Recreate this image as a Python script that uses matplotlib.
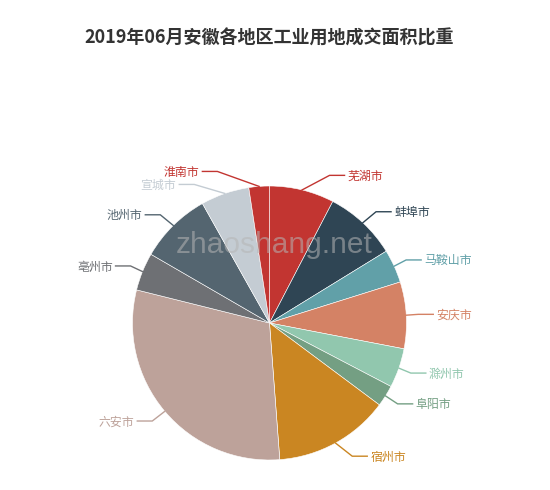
import matplotlib
matplotlib.use('Agg')
import matplotlib.pyplot as plt
import numpy as np

plt.rcParams['font.family'] = ['Noto Sans CJK SC', 'DejaVu Sans']

# data: share of industrial land transaction area (%), clockwise from top
cities = ['芜湖市', '蚌埠市', '马鞍山市', '安庆市', '滁州市', '阜阳市',
          '宿州市', '六安市', '亳州市', '池州市', '宣城市', '淮南市']
shares = [7.64, 8.58, 3.94, 7.86, 4.64, 2.53, 13.61, 30.08, 4.47, 8.50, 5.72, 2.42]

colors = ['#c23531', '#2f4554', '#61a0a8', '#d48265', '#91c7ae', '#749f83',
          '#ca8622', '#bda29a', '#6e7074', '#546570', '#c4ccd3', '#c23531']

W, H = 550, 490
fig = plt.figure(figsize=(W / 100, H / 100), dpi=100)
ax = fig.add_axes([0, 0, 1, 1])

cx, cy = 269.5, H - 323
r = 137
len1, len2 = 15, 15

ax.pie(shares, colors=colors, startangle=90, counterclock=False,
       center=(cx, cy), radius=r, frame=True,
       wedgeprops=dict(edgecolor='white', linewidth=0.4))

# echarts-like outside labels with leader lines
frac = np.array(shares) / sum(shares)
mids = (np.cumsum(frac) - frac / 2) * 2 * np.pi
labels = []
for name, col, a in zip(cities, colors, mids):
    dx, dy = np.sin(a), np.cos(a)
    labels.append(dict(name=name, col=col, dx=dx, dy=dy,
                       y=cy + (r + len1) * dy,
                       side=1 if dx >= 0 else -1))

# push overlapping labels down on each side
gap = 13
for side in (1, -1):
    group = sorted([l for l in labels if l['side'] == side], key=lambda l: -l['y'])
    for prev, cur in zip(group, group[1:]):
        if prev['y'] - cur['y'] < gap:
            cur['y'] = prev['y'] - gap

R = r + len1 + len2
for l in labels:
    dy_abs = abs(l['y'] - cy)
    dxl = np.sqrt(R ** 2 - dy_abs ** 2) if dy_abs < r + len1 else abs(R * l['dx'])
    tx = cx + l['side'] * dxl
    p0 = (cx + r * l['dx'], cy + r * l['dy'])
    p2 = (tx - 3 * l['side'], l['y'])
    p1 = (p2[0] - len2 * l['side'], l['y'])
    ax.plot([p0[0], p1[0], p2[0]], [p0[1], p1[1], p2[1]], color=l['col'], lw=1)
    ax.text(tx, l['y'] - 1, l['name'], color=l['col'], fontsize=8.6,
            ha='left' if l['side'] > 0 else 'right', va='center')

# watermark
ax.text(274, H - 253, 'zhaoshang.net', family='Liberation Sans', fontsize=21.5,
        color='#b5b5b5', alpha=0.55, ha='center', va='baseline')

ax.set_xlim(0, W)
ax.set_ylim(0, H)
ax.set_aspect('equal')
ax.axis('off')

fig.text(269 / W, 1 - 38 / H, '2019年06月安徽各地区工业用地成交面积比重',
         ha='center', va='center', fontsize=13, fontweight='bold', color='#333333')

fig.savefig('out.png', dpi=100)
